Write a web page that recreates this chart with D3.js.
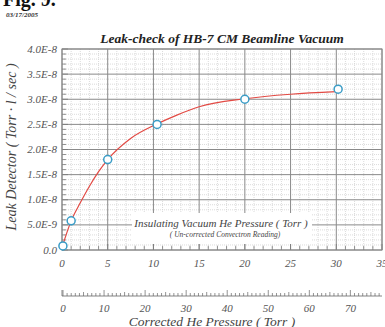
<!DOCTYPE html>
<html><head><meta charset="utf-8">
<script src="https://cdn.jsdelivr.net/npm/d3@7"></script>
<style>body{margin:0;background:#fff;} svg{display:block;}</style>
</head><body>
<script>
const titleText = "Leak-check of HB-7 CM Beamline Vacuum";
const dateText = "03/17/2005";
const yTitle = "Leak Detector ( Torr · l / sec )";
const xTitle = "Corrected He Pressure ( Torr )";
const legendLine1 = "Insulating Vacuum He Pressure ( Torr )";
const legendLine2 = "( Un-corrected Convectron Reading)";

// measured points: uncorrected convectron pressure (Torr) vs leak detector signal
const pointX = [0.1, 1.0, 5.0, 10.4, 20.0, 30.2];
const pointY = [8e-10, 5.8e-9, 1.8e-8, 2.5e-8, 3.0e-8, 3.2e-8];
// fitted red curve
const curveX = [0, 1, 2, 3, 4, 5, 7.5, 10.4, 12.5, 15, 20, 25, 30];
const curveY = [0.5e-9, 5.8e-9, 9.4e-9, 1.27e-8, 1.56e-8, 1.80e-8, 2.22e-8, 2.51e-8, 2.68e-8, 2.85e-8, 3.01e-8, 3.10e-8, 3.15e-8];

const xTicks = [0, 5, 10, 15, 20, 25, 30, 35];
const yTicks = [0, 5e-9, 1e-8, 1.5e-8, 2e-8, 2.5e-8, 3e-8, 3.5e-8, 4e-8];
const yTickLabels = ["0.0", "5.0E-9", "1.0E-8", "1.5E-8", "2.0E-8", "2.5E-8", "3.0E-8", "3.5E-8", "4.0E-8"];
const x2Ticks = [0, 10, 20, 30, 40, 50, 60, 70];

const W = 385, H = 327;
const L = 62, R = 382, T = 49, B = 250;
const FF = "Liberation Serif";

const svg = d3.select("body").append("svg").attr("width", W).attr("height", H);
function txt(xp, yp, s, size, opts = {}) {
  return svg.append("text").attr("x", xp).attr("y", yp).text(s)
    .attr("font-family", FF).attr("font-size", size)
    .attr("font-style", opts.style || "italic")
    .attr("font-weight", opts.weight || "normal")
    .attr("text-anchor", opts.anchor || "start")
    .attr("fill", opts.fill || "#555");
}

const x = d3.scaleLinear().domain([0, 35]).range([L, R]);
const y = d3.scaleLinear().domain([0, 4e-8]).range([B, T]);
const x2 = d3.scaleLinear().domain([0, 77.7]).range([63, R]);

// partial text cut at top
txt(3, 6, "Fig. 9.", 20, {style: "normal", weight: "bold", fill: "#111"});
txt(6, 17, dateText, 7, {weight: "bold", fill: "#333"});
txt(222, 43, titleText, 13.5, {weight: "bold", fill: "#222", anchor: "middle"});

// minor grid
const g = svg.append("g");
const xMinor = d3.range(0, 35.01, 1).filter(v => v % 5 !== 0);
const yMinor = d3.range(0, 4.001e-8, 1e-9).filter((v, i) => i % 5 !== 0);
g.selectAll(".vm").data(xMinor).join("line")
  .attr("x1", d => x(d)).attr("x2", d => x(d)).attr("y1", T).attr("y2", B)
  .attr("stroke", "#d2d2d2").attr("stroke-width", 0.8).attr("stroke-dasharray", "1,1");
g.selectAll(".hm").data(yMinor).join("line")
  .attr("y1", d => y(d)).attr("y2", d => y(d)).attr("x1", L).attr("x2", R)
  .attr("stroke", "#d2d2d2").attr("stroke-width", 0.8).attr("stroke-dasharray", "1,1");
// major grid
g.selectAll(".vM").data(xTicks).join("line")
  .attr("x1", d => x(d)).attr("x2", d => x(d)).attr("y1", T).attr("y2", B)
  .attr("stroke", "#8a8a8a").attr("stroke-width", 1);
g.selectAll(".hM").data(yTicks).join("line")
  .attr("y1", d => y(d)).attr("y2", d => y(d)).attr("x1", L).attr("x2", R)
  .attr("stroke", "#8a8a8a").attr("stroke-width", 1);

// legend box (white) inside plot
svg.append("rect").attr("x", 132).attr("y", 213).attr("width", 180).attr("height", 31).attr("fill", "#fff");
txt(221, 227, legendLine1, 11, {anchor: "middle", fill: "#444"});
txt(225, 237, legendLine2, 7.5, {anchor: "middle", fill: "#444"});

// inner ticks: left and bottom
const yAllMinor = d3.range(0, 4.001e-8, 1e-9);
svg.selectAll(".lt").data(yAllMinor).join("line")
  .attr("x1", L).attr("x2", (d, i) => L + (i % 5 === 0 ? 6 : 4))
  .attr("y1", d => y(d)).attr("y2", d => y(d)).attr("stroke", "#777").attr("stroke-width", 0.8);
const xAllMinor = d3.range(0, 35.01, 1);
svg.selectAll(".bt").data(xAllMinor).join("line")
  .attr("x1", d => x(d)).attr("x2", d => x(d))
  .attr("y1", B).attr("y2", (d, i) => B - (i % 5 === 0 ? 6 : 4)).attr("stroke", "#777").attr("stroke-width", 0.8);

// border
svg.append("rect").attr("x", L).attr("y", T).attr("width", R - L).attr("height", B - T)
  .attr("fill", "none").attr("stroke", "#888").attr("stroke-width", 1);

// y labels
yTicks.forEach((d, i) => txt(57, y(d) + 3.5, yTickLabels[i], 11, {anchor: "end"}));
// x labels
xTicks.forEach(d => txt(x(d), 267, String(d), 11, {anchor: "middle"}));

// y title
txt(0, 0, yTitle, 14, {anchor: "middle", fill: "#444"})
  .attr("transform", "translate(16,147) rotate(-90)");

// curve
svg.append("path").datum(curveX.map((d, i) => [d, curveY[i]]))
  .attr("d", d3.line().x(d => x(d[0])).y(d => y(d[1])).curve(d3.curveMonotoneX))
  .attr("fill", "none").attr("stroke", "#e24a44").attr("stroke-width", 1.2);

// points
svg.selectAll(".pt").data(pointX.map((d, i) => [d, pointY[i]])).join("circle")
  .attr("cx", d => x(d[0])).attr("cy", d => y(d[1])).attr("r", 4)
  .attr("fill", "#fff").attr("stroke", "#3a9cc6").attr("stroke-width", 1.5);

// secondary axis (corrected pressure)
const ax2 = svg.append("g");
ax2.append("line").attr("x1", L).attr("x2", R).attr("y1", 296).attr("y2", 296)
  .attr("stroke", "#666").attr("stroke-width", 0.8);
const x2Minor = d3.range(0, 77.01, 1);
ax2.selectAll("line.t").data(x2Minor).join("line").attr("class", "t")
  .attr("x1", d => x2(d)).attr("x2", d => x2(d)).attr("y1", 296)
  .attr("y2", d => 296 - (d % 10 === 0 ? 6 : (d % 5 === 0 ? 4 : 3)))
  .attr("stroke", "#666").attr("stroke-width", 0.7);
ax2.append("line").attr("x1", L).attr("x2", L).attr("y1", 296).attr("y2", 290).attr("stroke", "#666").attr("stroke-width", 0.8);
x2Ticks.forEach(d => txt(x2(d), 312, String(d), 11, {anchor: "middle"}));

txt(212, 326, xTitle, 13.5, {anchor: "middle", fill: "#444"});
</script>
</body></html>
